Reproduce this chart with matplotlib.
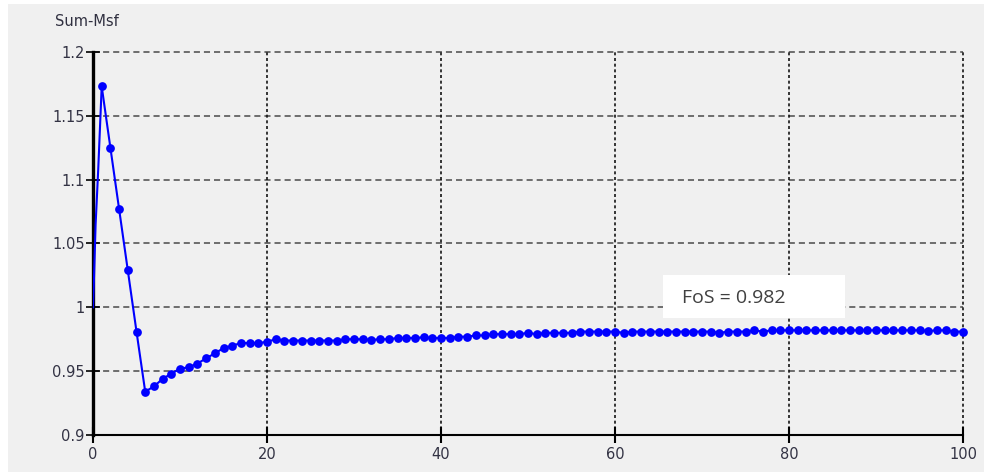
import matplotlib
matplotlib.use("Agg")
import matplotlib.pyplot as plt
from matplotlib.patches import Rectangle

# first iteration ramps up from x=0 (line only, no markers)
start_x = [0, 0.1, 0.3, 0.6]
start_y = [1.0, 1.02, 1.065, 1.108]

# Sum-Msf per step, x = 1..100
steps = list(range(1, 101))
msf = [
    1.173, 1.125, 1.077, 1.029, 0.981, 0.934, 0.938, 0.944, 0.948, 0.952,
    0.953, 0.956, 0.960, 0.964, 0.968, 0.970, 0.972, 0.972, 0.972, 0.973,
    0.975, 0.974, 0.974, 0.974, 0.974, 0.974, 0.974, 0.974, 0.975, 0.975,
    0.975, 0.9745, 0.975, 0.975, 0.976, 0.976, 0.976, 0.9765, 0.976, 0.976,
    0.976, 0.977, 0.977, 0.978, 0.978, 0.979, 0.979, 0.979, 0.979, 0.980,
    0.979, 0.980, 0.980, 0.980, 0.980, 0.981, 0.981, 0.981, 0.981, 0.981,
    0.980, 0.981, 0.981, 0.981, 0.981, 0.981, 0.981, 0.981, 0.981, 0.981,
    0.981, 0.980, 0.981, 0.981, 0.981, 0.982, 0.981, 0.982, 0.982, 0.982,
    0.982, 0.982, 0.982, 0.982, 0.982, 0.982, 0.982, 0.982, 0.982, 0.982,
    0.982, 0.982, 0.982, 0.982, 0.982, 0.9815, 0.982, 0.982, 0.981, 0.981,
]

x_ticks = [0, 20, 40, 60, 80, 100]
y_ticks = [0.9, 0.95, 1.0, 1.05, 1.1, 1.15, 1.2]
y_labels = ["0.9", "0.95", "1", "1.05", "1.1", "1.15", "1.2"]
fos_text = "FoS = 0.982"

bg = "#f0f0f0"
W, H = 989, 472
fig = plt.figure(figsize=(W / 100, H / 100), dpi=100, facecolor="white")
# grey panel with a thin white margin at left/top/right
fig.patches.append(Rectangle((8 / W, 0), (984 - 8) / W, (H - 4) / H,
                             transform=fig.transFigure, facecolor=bg,
                             edgecolor="none", zorder=-10))

ax = fig.add_axes([93 / W, (H - 435) / H, (963 - 93) / W, (435 - 52) / H])
ax.set_zorder(1)
ax.set_facecolor(bg)
ax.set_xlim(0, 100)
ax.set_ylim(0.9, 1.2)

# grid: dashed grey horizontals, dotted black verticals
for yv in y_ticks[1:]:
    ax.axhline(yv, color="#4a4a4a", lw=1.1, ls=(0, (4, 2.6)), zorder=1, clip_on=False)
for xv in x_ticks[1:]:
    ax.axvline(xv, color="#151515", lw=1.2, ls=(0, (1.8, 1.6)), zorder=1, clip_on=False)

ax.plot(start_x + [1], start_y + [msf[0]], color="#0000ff", lw=1.5, zorder=3)
ax.plot(steps, msf, color="#0000ff", lw=1.5, marker="o", ms=6.3,
        markeredgewidth=0, zorder=4, clip_on=False)

for s in ["top", "right"]:
    ax.spines[s].set_visible(False)
ax.spines["left"].set_linewidth(2.4)
ax.spines["bottom"].set_linewidth(1.5)

ax.set_xticks(x_ticks)
ax.set_yticks(y_ticks)
ax.set_yticklabels(y_labels)
ax.tick_params(axis="y", direction="inout", length=10, width=1.2, pad=1,
               labelsize=10.5, labelcolor="#333344")
ax.tick_params(axis="x", direction="inout", length=11, width=1.5, pad=3,
               labelsize=10.5, labelcolor="#333344")

fig.text(55 / W, 1 - 22 / H, "Sum-Msf", fontsize=10.5, color="#303040",
         va="center", ha="left")

# FoS annotation box
ax.add_patch(Rectangle((65.5, 0.9917), 20.9, 0.0337, facecolor="white",
                       edgecolor="none", zorder=5))
ax.text(67.7, 1.0074, fos_text, fontsize=14, family="Open Sans",
        color="#404040", va="center", ha="left", zorder=6)

fig.savefig("out.png", dpi=100, facecolor="white")
